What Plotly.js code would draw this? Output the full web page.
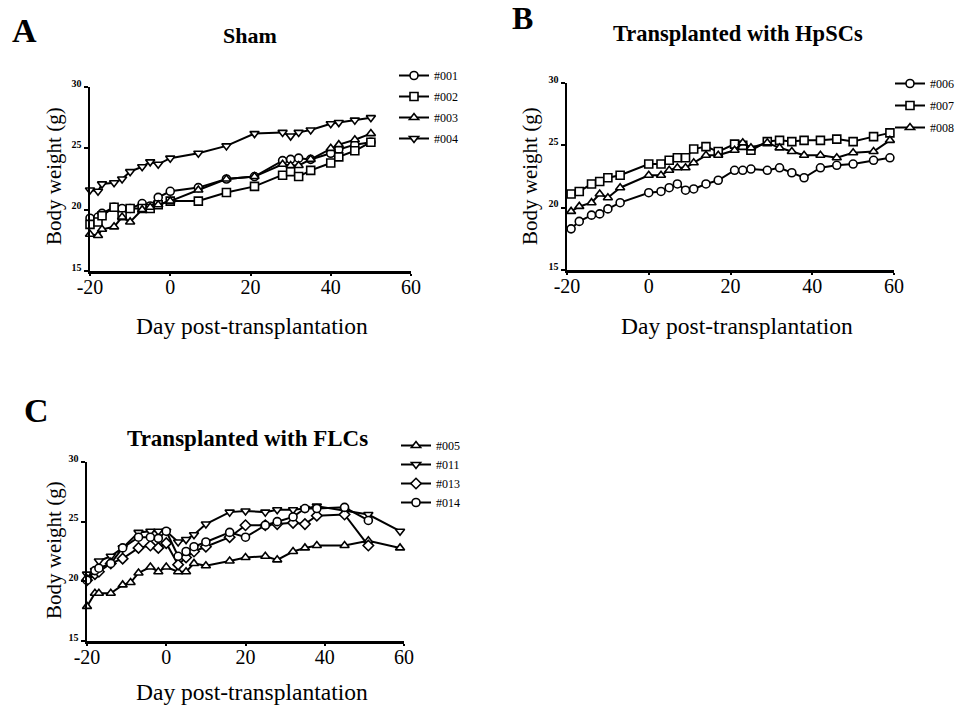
<!DOCTYPE html>
<html>
<head>
<meta charset="utf-8">
<script src="https://cdn.plot.ly/plotly-3.0.1.min.js"></script>
<style>html,body{margin:0;padding:0;background:#fff;}#chart{width:961px;height:715px;}</style>
</head>
<body>
<div id="chart"></div>
<script>
// ---- Panel A: Sham ----
const daysA = [-20,-18,-17,-14,-12,-10,-7,-5,-3,0,7,14,21,28,30,32,35,40,42,46,50];
const w001 = [19.3,19.4,19.7,20.2,20.1,20.1,20.5,20.3,21.0,21.5,21.8,22.5,22.7,24.0,24.1,24.2,24.1,24.6,24.9,25.3,25.5];
const w002 = [18.8,19.0,19.5,20.2,19.5,20.1,20.1,20.1,20.4,20.7,20.7,21.4,21.9,22.8,23.1,22.7,23.2,23.8,24.3,24.8,25.5];
const w003 = [18.0,17.9,18.4,18.6,19.4,19.0,20.0,20.2,20.4,20.7,21.6,22.5,22.7,23.7,23.6,23.6,24.1,25.0,25.3,25.7,26.2];
const w004 = [21.6,21.5,22.1,22.2,22.5,23.1,23.5,23.9,23.7,24.2,24.6,25.2,26.2,26.3,26.0,26.3,26.5,27.0,27.1,27.3,27.5];

// ---- Panel B: Transplanted with HpSCs ----
const daysB = [-19,-17,-14,-12,-10,-7,0,3,5,7,9,11,14,17,21,23,25,29,32,35,38,42,46,50,55,59];
const w006 = [18.3,18.9,19.4,19.5,19.9,20.4,21.2,21.3,21.6,21.9,21.4,21.5,21.9,22.2,23.0,23.0,23.1,23.0,23.2,22.8,22.4,23.2,23.4,23.5,23.8,24.0];
const w007 = [21.1,21.3,21.9,22.1,22.4,22.6,23.5,23.5,23.8,24.0,24.0,24.7,24.9,24.5,25.1,25.0,24.6,25.3,25.4,25.3,25.4,25.4,25.5,25.3,25.7,26.0];
const w008 = [19.7,20.1,20.4,21.1,20.8,21.6,22.6,22.6,23.0,23.2,23.2,23.6,24.2,24.2,24.6,25.2,24.8,25.2,24.8,24.5,24.2,24.2,24.0,24.4,24.5,25.4];

// ---- Panel C: Transplanted with FLCs ----
const days005 = [-20,-18,-17,-14,-11,-9,-7,-4,-2,0,3,5,7,10,16,20,25,28,32,35,38,45,51,59];
const w005 = [17.9,19.0,19.0,19.0,19.7,19.9,20.7,21.2,20.8,21.2,20.8,20.8,21.5,21.3,21.7,22.0,22.1,21.8,22.5,22.8,23.0,23.0,23.4,22.8];
const days011 = [-20,-18,-17,-14,-11,-7,-4,-2,0,3,5,7,10,16,20,25,28,32,35,38,45,51,59];
const w011 = [20.6,20.9,21.7,22.1,22.8,24.1,24.2,24.2,24.2,23.3,23.5,23.9,24.8,25.8,25.9,25.8,26.0,26.0,26.1,26.3,25.9,25.6,24.2];
const days013 = [-20,-18,-17,-14,-11,-7,-4,-2,0,3,5,7,10,16,20,25,28,32,35,38,45,51];
const w013 = [20.1,20.6,20.8,21.5,21.9,22.8,23.0,22.8,23.2,21.4,22.0,22.5,22.9,23.7,24.7,24.7,24.8,24.9,24.8,25.5,25.6,23.0];
const days014 = [-20,-18,-17,-14,-11,-7,-4,-2,0,3,5,7,10,16,20,25,28,32,35,38,45,51];
const w014 = [20.1,20.9,21.1,21.5,22.8,23.7,23.7,23.6,24.2,22.1,22.5,22.9,23.3,24.1,23.7,24.7,25.0,25.4,26.1,26.1,26.2,25.1];

const xTicks = [-20,0,20,40,60];
const xTickText = ['-20','0','20','40','60'];
const yTicks = [15,20,25,30];
const yTickText = ['15','20','25','30'];

const SERIF = 'Liberation Serif';

function tr(x, y, name, symbol, xa, ya, legend, grp) {
  return {
    type: 'scatter', mode: 'lines+markers', x: x, y: y, name: name,
    xaxis: xa, yaxis: ya, legend: legend, legendgroup: grp,
    cliponaxis: false,
    line: {color: '#000', width: 2},
    marker: {symbol: symbol, size: 8, color: '#fff', line: {color: '#000', width: 1.6}}
  };
}

const data = [
  tr(daysA, w001, '#001', 'circle', 'x', 'y', 'legend', 'a1'),
  tr(daysA, w002, '#002', 'square', 'x', 'y', 'legend', 'a2'),
  tr(daysA, w003, '#003', 'triangle-up', 'x', 'y', 'legend', 'a3'),
  tr(daysA, w004, '#004', 'triangle-down', 'x', 'y', 'legend', 'a4'),
  tr(daysB, w006, '#006', 'circle', 'x2', 'y2', 'legend2', 'b1'),
  tr(daysB, w007, '#007', 'square', 'x2', 'y2', 'legend2', 'b2'),
  tr(daysB, w008, '#008', 'triangle-up', 'x2', 'y2', 'legend2', 'b3'),
  tr(days005, w005, '#005', 'triangle-up', 'x3', 'y3', 'legend3', 'c1'),
  tr(days011, w011, '#011', 'triangle-down', 'x3', 'y3', 'legend3', 'c2'),
  tr(days013, w013, '#013', 'diamond', 'x3', 'y3', 'legend3', 'c3'),
  tr(days014, w014, '#014', 'circle', 'x3', 'y3', 'legend3', 'c4')
];

const W = 961, H = 715;
const px = v => v / W;
const py = v => 1 - v / H;

function xax(d0, d1, anchor) {
  return {
    domain: [px(d0), px(d1)], anchor: anchor, range: [-20, 60],
    showline: true, linecolor: '#000', linewidth: 2.5, showgrid: false, zeroline: false,
    ticks: 'outside', ticklen: 2, tickwidth: 2, tickcolor: '#000',
    ticklabelstandoff: -6,
    tickvals: xTicks, ticktext: xTickText,
    tickfont: {family: SERIF, size: 20, color: '#000'}
  };
}
function yax(top, bottom, anchor) {
  return {
    domain: [py(bottom), py(top)], anchor: anchor, range: [15, 30],
    showline: true, linecolor: '#000', linewidth: 2.5, showgrid: false, zeroline: false,
    ticks: 'outside', ticklen: 4, tickwidth: 2, tickcolor: '#000',
    ticklabelshift: -4,
    tickvals: yTicks, ticktext: yTickText,
    tickfont: {family: SERIF, size: 10, color: '#000', weight: 'bold'}
  };
}

function leg(xl, ytop, gap) {
  return {
    x: px(xl), xanchor: 'left', y: py(ytop), yanchor: 'top',
    bgcolor: 'rgba(0,0,0,0)', borderwidth: 0, tracegroupgap: gap,
    font: {family: SERIF, size: 12, color: '#000'}, itemwidth: 30
  };
}

function ann(text, x, y, size, bold, xanchor, angle) {
  return {
    text: bold ? '<b>' + text + '</b>' : text,
    x: px(x), y: py(y), xref: 'paper', yref: 'paper',
    xanchor: xanchor || 'center', yanchor: 'middle', showarrow: false,
    textangle: angle || 0,
    font: {family: SERIF, size: size, color: '#000'}
  };
}

const layout = {
  width: W, height: H,
  margin: {l: 0, r: 0, t: 0, b: 0},
  paper_bgcolor: '#fff', plot_bgcolor: '#fff',
  showlegend: true,
  xaxis: xax(90, 411, 'y'),
  yaxis: yax(87, 271, 'x'),
  xaxis2: xax(567, 894, 'y2'),
  yaxis2: yax(83, 270, 'x2'),
  xaxis3: xax(87, 404, 'y3'),
  yaxis3: yax(462, 641, 'x3'),
  legend: leg(394, 61, 2),
  legend2: leg(890, 69, 3),
  legend3: leg(396, 431, 0),
  annotations: [
    ann('A', 10, 31, 34, true, 'left'),
    ann('Sham', 250, 35, 22, true),
    ann('B', 510, 18, 32, true, 'left'),
    ann('Transplanted with HpSCs', 738, 33, 22.5, true),
    ann('C', 22, 410, 34, true, 'left'),
    ann('Transplanted with FLCs', 247, 438, 23, true),
    ann('Day post-transplantation', 252, 326, 23.5, false),
    ann('Day post-transplantation', 737, 326, 23.5, false),
    ann('Day post-transplantation', 252, 692, 23.5, false),
    ann('Body weight (g)', 54, 176, 21, false, 'center', -90),
    ann('Body weight (g)', 530, 176, 21, false, 'center', -90),
    ann('Body weight (g)', 54, 550, 21, false, 'center', -90)
  ]
};

Plotly.newPlot('chart', data, layout, {displayModeBar: false, staticPlot: true});
</script>
</body>
</html>
